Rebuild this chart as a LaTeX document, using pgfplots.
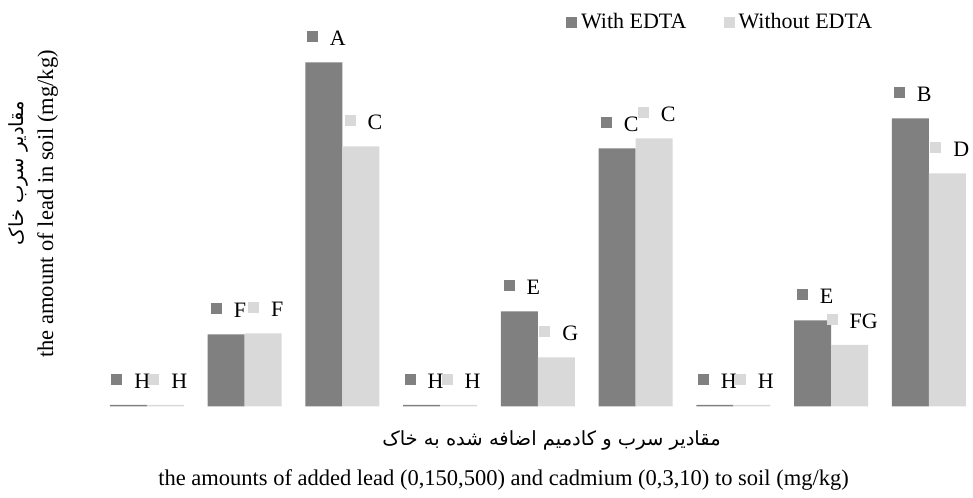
\documentclass[border=0pt]{standalone}
\usepackage{pgfplots}
\pgfplotsset{compat=1.18}
\usepackage{pgfplotstable}
\usepackage{fontspec}
\setmainfont{Liberation Serif}
\newfontfamily\farsi[Script=Arabic]{DejaVu Sans}
\TeXXeTstate=1

\definecolor{withc}{HTML}{808080}
\definecolor{woc}{HTML}{D9D9D9}

% lead in soil (same units as the picture)
\pgfplotstableread{
x y lab
0 1.5 H
1 72 F
2 344 A
3 1.5 H
4 95 E
5 258 C
6 1.5 H
7 86 E
8 288 B
}\withedta

\pgfplotstableread{
x y lab
0 1.5 H
1 73 F
2 260 C
3 1.5 H
4 49 G
5 268 C
6 1.5 H
7 61.5 FG
8 233 D
}\withoutedta

\begin{document}
\fontsize{22}{26}\selectfont
\begin{tikzpicture}[x=1pt,y=1pt]
\path (0,0) rectangle (973,495);
\begin{axis}[
    at={(98pt,88.5pt)}, anchor=south west,
    scale only axis, width=875pt, height=400pt,
    xmin=-0.5, xmax=8.452, ymin=0, ymax=400,
    axis lines=none,
    ybar, bar width=0.3786,
    point meta=explicit symbolic,
    every node near coord/.append style={anchor=base, yshift=16.5pt, xshift=2.5pt, inner sep=0pt, text=black},
    legend columns=2,
    legend style={at={(axis description cs:0.5349,0.95875)}, anchor=west,
        draw=none, fill=none, inner sep=0pt, outer sep=0pt,
        nodes={inner sep=0pt},
        /tikz/every odd column/.append style={column sep=4pt},
        /tikz/every even column/.append style={column sep=37pt}},
]
\addplot[fill=withc, draw=none, bar shift=-0.1893,
    legend image code/.code={\fill[withc] (0pt,-5.5pt) rectangle (11pt,5.5pt);},
    nodes near coords={\textcolor{withc}{\rule[3.5pt]{11pt}{11pt}}\hspace{12pt}\pgfplotspointmeta}]
    table[x=x, y=y, meta=lab] {\withedta};
\addlegendentry{With EDTA}
\addplot[fill=woc, draw=none, bar shift=0.1893,
    legend image code/.code={\fill[woc] (0pt,-5.5pt) rectangle (11pt,5.5pt);},
    nodes near coords={\textcolor{woc}{\rule[3.5pt]{11pt}{11pt}}\hspace{12pt}\pgfplotspointmeta}]
    table[x=x, y=y, meta=lab] {\withoutedta};
\addlegendentry{Without EDTA}
\end{axis}
% axis titles, Persian over English
\node[anchor=center] at (551.5,55) {\farsi\fontsize{19.5}{23}\selectfont\beginR مقادیر سرب و کادمیم اضافه شده به خاک\endR};
\node[anchor=base] at (503.5,10) {\fontsize{22.5}{27}\selectfont the amounts of added lead (0,150,500) and cadmium (0,3,10) to soil (mg/kg)};
\node[anchor=center, rotate=90] at (18,322) {\farsi\fontsize{19.5}{23}\selectfont\beginR مقادیر سرب خاک\endR};
\node[anchor=base, rotate=90] at (53,291) {\fontsize{22.5}{27}\selectfont the amount of lead in soil (mg/kg)};
\end{tikzpicture}
\end{document}
